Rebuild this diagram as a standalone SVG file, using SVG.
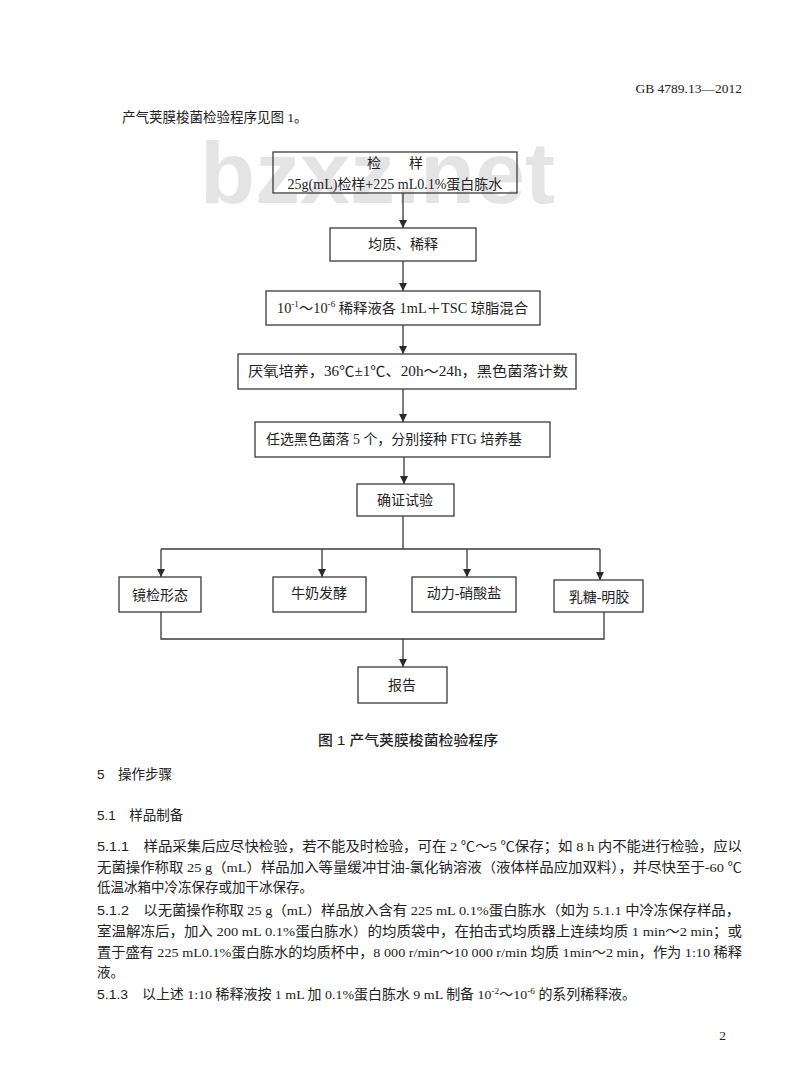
<svg xmlns="http://www.w3.org/2000/svg" width="800" height="1090" viewBox="0 0 800 1090">
<style>
.bg{fill:#ffffff}
.wm{font-family:"Liberation Sans",Arial,sans-serif;font-weight:bold;fill:#e4e4e4}
.box{fill:none;stroke:#3a3a3a;stroke-width:1.3}
.t{font-family:"Liberation Serif","Noto Sans CJK SC",serif;font-size:14px;fill:#222}
.body{font-family:"Liberation Serif","Noto Sans CJK SC",serif;font-size:13.5px;fill:#222}
.h{font-family:"Liberation Sans","Noto Sans CJK SC",sans-serif;font-size:13.5px;fill:#222}
.ln{fill:none;stroke:#3a3a3a;stroke-width:1.3}
</style>
<defs>
<marker id="ah" viewBox="0 0 10 10" refX="10" refY="5" markerWidth="8" markerHeight="8" markerUnits="userSpaceOnUse" orient="auto">
<path d="M0,0 L10,5 L0,10 Z" fill="#2a2a2a"/>
</marker>
</defs>
<rect class="bg" x="0" y="0" width="800" height="1090"/>
<text class="wm" x="200" y="203" font-size="88" textLength="355" lengthAdjust="spacingAndGlyphs">bzxz.net</text>

<text class="body" x="742" y="93" text-anchor="end">GB 4789.13—2012</text>
<text class="body" x="122" y="122">产气荚膜梭菌检验程序见图 1。</text>

<g id="connectors">
<line class="ln" x1="403" y1="193" x2="403" y2="228" marker-end="url(#ah)"/>
<line class="ln" x1="403" y1="261" x2="403" y2="291" marker-end="url(#ah)"/>
<line class="ln" x1="403" y1="325" x2="403" y2="354" marker-end="url(#ah)"/>
<line class="ln" x1="403" y1="389" x2="403" y2="422" marker-end="url(#ah)"/>
<line class="ln" x1="404" y1="457" x2="404" y2="484" marker-end="url(#ah)"/>
<line class="ln" x1="403" y1="516" x2="403" y2="549"/>
<polyline class="ln" points="161,549 600,549"/>
<line class="ln" x1="161" y1="549" x2="161" y2="577" marker-end="url(#ah)"/>
<line class="ln" x1="322" y1="549" x2="322" y2="577" marker-end="url(#ah)"/>
<line class="ln" x1="467" y1="549" x2="467" y2="577" marker-end="url(#ah)"/>
<line class="ln" x1="600" y1="549" x2="600" y2="580" marker-end="url(#ah)"/>
<polyline class="ln" points="161,612 161,639 604,639 604,612"/>
<line class="ln" x1="403" y1="639" x2="403" y2="667" marker-end="url(#ah)"/>
</g>

<g id="n1">
<rect class="box" x="273" y="152" width="244" height="41"/>
<text class="t" x="395" y="168" text-anchor="middle">检　　样</text>
<text class="t" x="395" y="189" text-anchor="middle">25g(mL)检样+225 mL0.1%蛋白胨水</text>
</g>
<g id="n2">
<rect class="box" x="330" y="228" width="146" height="33"/>
<text class="t" x="403" y="249" text-anchor="middle">均质、稀释</text>
</g>
<g id="n3">
<rect class="box" x="266" y="291" width="274" height="34"/>
<text class="t" x="277" y="313" textLength="251" lengthAdjust="spacingAndGlyphs">10<tspan dy="-6" font-size="9">-1</tspan><tspan dy="6">～10</tspan><tspan dy="-6" font-size="9">-6</tspan><tspan dy="6"> 稀释液各 1mL＋TSC 琼脂混合</tspan></text>
</g>
<g id="n4">
<rect class="box" x="238" y="354" width="338" height="35"/>
<text class="t" x="248" y="376" textLength="320" lengthAdjust="spacingAndGlyphs">厌氧培养，36℃±1℃、20h～24h，黑色菌落计数</text>
</g>
<g id="n5">
<rect class="box" x="255" y="422" width="295" height="35"/>
<text class="t" x="266" y="444" textLength="256" lengthAdjust="spacingAndGlyphs">任选黑色菌落 5 个，分别接种 FTG 培养基</text>
</g>
<g id="n6">
<rect class="box" x="357" y="484" width="97" height="32"/>
<text class="t" x="405" y="505" text-anchor="middle">确证试验</text>
</g>
<g id="n7">
<rect class="box" x="119" y="577" width="82" height="35"/>
<text class="t" x="160" y="600" text-anchor="middle">镜检形态</text>
</g>
<g id="n8">
<rect class="box" x="273" y="577" width="93" height="35"/>
<text class="t" x="319" y="598" text-anchor="middle">牛奶发酵</text>
</g>
<g id="n9">
<rect class="box" x="412" y="577" width="104" height="35"/>
<text class="t" x="464" y="598" text-anchor="middle">动力-硝酸盐</text>
</g>
<g id="n10">
<rect class="box" x="554" y="580" width="89" height="32"/>
<text class="t" x="599" y="602" text-anchor="middle">乳糖-明胶</text>
</g>
<g id="n11">
<rect class="box" x="358" y="667" width="89" height="36"/>
<text class="t" x="402" y="690" text-anchor="middle">报告</text>
</g>

<text class="h" x="318" y="745" font-size="14" font-weight="500" textLength="180" lengthAdjust="spacingAndGlyphs">图 1 产气荚膜梭菌检验程序</text>
<text class="h" x="97" y="779">5　操作步骤</text>
<text class="h" x="97" y="820">5.1　样品制备</text>

<text class="body" x="97" y="851" textLength="645" lengthAdjust="spacingAndGlyphs"><tspan class="h">5.1.1</tspan>　样品采集后应尽快检验，若不能及时检验，可在 2 ℃～5 ℃保存；如 8 h 内不能进行检验，应以</text>
<text class="body" x="97" y="872" textLength="645" lengthAdjust="spacingAndGlyphs">无菌操作称取 25 g（mL）样品加入等量缓冲甘油-氯化钠溶液（液体样品应加双料），并尽快至于-60 ℃</text>
<text class="body" x="97" y="892">低温冰箱中冷冻保存或加干冰保存。</text>
<text class="body" x="97" y="915" textLength="643" lengthAdjust="spacingAndGlyphs"><tspan class="h">5.1.2</tspan>　以无菌操作称取 25 g（mL）样品放入含有 225 mL 0.1%蛋白胨水（如为 5.1.1 中冷冻保存样品，</text>
<text class="body" x="97" y="936" textLength="645" lengthAdjust="spacingAndGlyphs">室温解冻后，加入 200 mL 0.1%蛋白胨水）的均质袋中，在拍击式均质器上连续均质 1 min～2 min；或</text>
<text class="body" x="97" y="957" textLength="645" lengthAdjust="spacingAndGlyphs">置于盛有 225 mL0.1%蛋白胨水的均质杯中，8 000 r/min～10 000 r/min 均质 1min～2 min，作为 1:10 稀释</text>
<text class="body" x="97" y="977">液。</text>
<text class="body" x="97" y="999" textLength="539" lengthAdjust="spacingAndGlyphs"><tspan class="h">5.1.3</tspan>　以上述 1:10 稀释液按 1 mL 加 0.1%蛋白胨水 9 mL 制备 10<tspan dy="-5" font-size="9">-2</tspan><tspan dy="5">～10</tspan><tspan dy="-5" font-size="9">-6</tspan><tspan dy="5"> 的系列稀释液。</tspan></text>
<text class="body" x="726" y="1040" text-anchor="end">2</text>
</svg>
